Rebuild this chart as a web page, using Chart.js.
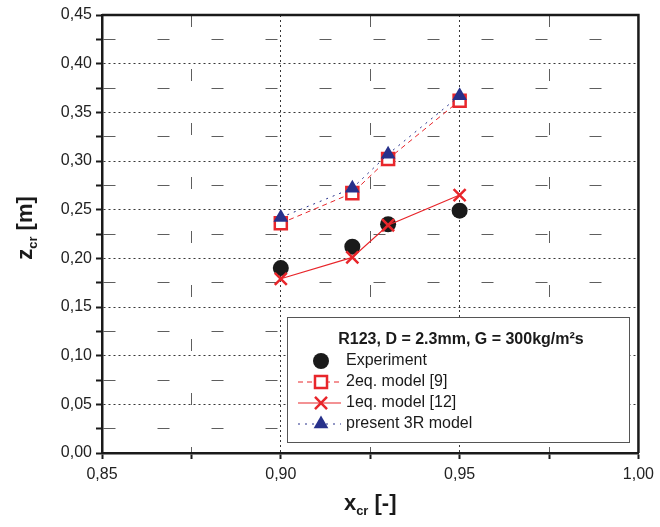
<!DOCTYPE html>
<html>
<head>
<meta charset="utf-8">
<script src="https://cdn.jsdelivr.net/npm/chart.js@4.4.1/dist/chart.umd.min.js"></script>
<style>
  html, body { margin: 0; padding: 0; background: #fff; }
  #wrap { width: 660px; height: 527px; }
</style>
</head>
<body>
<div id="wrap"><canvas id="chart"></canvas></div>
<script>
// values
const xcr = [0.90, 0.92, 0.93, 0.95];
const experiment = [0.190, 0.212, 0.235, 0.249];
const model2eq = [0.236, 0.267, 0.302, 0.362];
const model1eq = [0.179, 0.201, 0.234, 0.265];
const model3R = [0.242, 0.272, 0.307, 0.367];

const xTicks = [0.85, 0.875, 0.90, 0.925, 0.95, 0.975, 1.00];
const yTicks = [0, 0.025, 0.05, 0.075, 0.10, 0.125, 0.15, 0.175, 0.20, 0.225,
                0.25, 0.275, 0.30, 0.325, 0.35, 0.375, 0.40, 0.425, 0.45];

const legendTitle = 'R123, D = 2.3mm, G = 300kg/m²s';
const names = ['Experiment', '2eq. model [9]', '1eq. model [12]', 'present 3R model'];

const RED = '#e8262b';
const NAVY = '#27318b';
const FONT = '"Liberation Sans", Arial, sans-serif';

const pts = ys => xcr.map((x, i) => ({ x: x, y: ys[i] }));
const fmt = v => v.toFixed(2).replace('.', ',');

const datasets = [
  { label: names[0], data: pts(experiment), showLine: false, order: 3,
    pointStyle: 'circle', pointRadius: 8, backgroundColor: '#1a1a1a', borderColor: '#1a1a1a', borderWidth: 0 },
  { label: names[1], data: pts(model2eq), showLine: true, order: 2,
    borderColor: RED, borderWidth: 1, borderDash: [5, 4],
    pointStyle: 'rect', pointRadius: 8.5, pointBorderWidth: 2.5, pointBackgroundColor: '#fff', pointBorderColor: RED },
  { label: names[2], data: pts(model1eq), showLine: true, order: 1,
    borderColor: RED, borderWidth: 1.2,
    pointStyle: 'crossRot', pointRadius: 8.5, pointBorderWidth: 2.5, pointBorderColor: RED },
  { label: names[3], data: pts(model3R), showLine: true, order: 0,
    borderColor: NAVY, borderWidth: 1, borderDash: [2, 5],
    pointStyle: 'triangle', pointRadius: 8.5, pointBorderWidth: 0, pointBackgroundColor: NAVY, pointBorderColor: NAVY }
];

// frame, axis titles and the boxed legend
const extras = {
  id: 'extras',
  afterDatasetsDraw(chart) {
    const ctx = chart.ctx;
    const a = chart.chartArea;
    ctx.save();
    ctx.strokeStyle = '#1a1a1a';
    ctx.lineWidth = 2.5;
    ctx.beginPath();
    ctx.moveTo(a.left, a.top);
    ctx.lineTo(a.right, a.top);
    ctx.lineTo(a.right, a.bottom);
    ctx.stroke();

    // legend box
    const bx = 287, by = 317, bw = 342, bh = 125;
    ctx.fillStyle = '#fff';
    ctx.fillRect(bx, by, bw, bh);
    ctx.strokeStyle = '#555';
    ctx.lineWidth = 1;
    ctx.strokeRect(bx + 0.5, by + 0.5, bw, bh);

    ctx.fillStyle = '#1a1a1a';
    ctx.font = 'bold 16px ' + FONT;
    ctx.textAlign = 'center';
    ctx.textBaseline = 'middle';
    ctx.fillText(legendTitle, bx + bw / 2 + 3, by + 23);

    const rowY = [361, 382, 403, 424];
    const sx = 321;
    datasets.forEach((ds, i) => {
      const y = rowY[i];
      if (ds.showLine) {
        ctx.save();
        ctx.strokeStyle = ds.borderColor;
        ctx.lineWidth = ds.borderWidth;
        ctx.setLineDash(ds.borderDash || []);
        ctx.beginPath();
        ctx.moveTo(sx - 23, y);
        ctx.lineTo(sx + 20, y);
        ctx.stroke();
        ctx.restore();
      }
      ctx.save();
      ctx.fillStyle = ds.pointBackgroundColor || ds.backgroundColor;
      ctx.strokeStyle = ds.pointBorderColor || ds.borderColor;
      ctx.lineWidth = ds.pointBorderWidth || 0;
      Chart.helpers.drawPoint(ctx, {
        pointStyle: ds.pointStyle, radius: ds.pointRadius, rotation: 0,
        borderWidth: ds.pointBorderWidth || 0
      }, sx, y);
      ctx.restore();
      ctx.fillStyle = '#1a1a1a';
      ctx.font = '16px ' + FONT;
      ctx.textAlign = 'left';
      ctx.fillText(ds.label, sx + 25, y);
    });

    // x title
    const cx = (a.left + a.right) / 2;
    ctx.textBaseline = 'alphabetic';
    ctx.textAlign = 'left';
    ctx.font = 'bold 22px ' + FONT;
    const wx = ctx.measureText('x').width;
    ctx.font = 'bold 13px ' + FONT;
    const wsub = ctx.measureText('cr').width;
    ctx.font = 'bold 22px ' + FONT;
    const wrest = ctx.measureText(' [-]').width;
    let x0 = cx - (wx + wsub + wrest) / 2;
    const ty = 510;
    ctx.fillText('x', x0, ty);
    ctx.font = 'bold 13px ' + FONT;
    ctx.fillText('cr', x0 + wx, ty + 5);
    ctx.font = 'bold 22px ' + FONT;
    ctx.fillText(' [-]', x0 + wx + wsub, ty);

    // y title
    ctx.translate(32, 228);
    ctx.rotate(-Math.PI / 2);
    ctx.font = 'bold 22px ' + FONT;
    const wz = ctx.measureText('z').width;
    ctx.font = 'bold 13px ' + FONT;
    const wsz = ctx.measureText('cr').width;
    ctx.font = 'bold 22px ' + FONT;
    const wm = ctx.measureText(' [m]').width;
    x0 = -(wz + wsz + wm) / 2;
    ctx.fillText('z', x0, 0);
    ctx.font = 'bold 13px ' + FONT;
    ctx.fillText('cr', x0 + wz, 5);
    ctx.font = 'bold 22px ' + FONT;
    ctx.fillText(' [m]', x0 + wz + wsz, 0);
    ctx.restore();
  }
};

const gridColor = c => (c.index % 2 === 0 ? 'rgba(20,20,20,0.85)' : 'rgba(40,40,40,0.75)');
const gridDash = c => (c.index % 2 === 0 ? [2, 3] : [12, 42]);

new Chart(document.getElementById('chart'), {
  type: 'scatter',
  data: { datasets: datasets },
  options: {
    responsive: true,
    maintainAspectRatio: false,
    animation: false,
    layout: { padding: { top: 15, right: 20, left: 0, bottom: 0 } },
    plugins: { legend: { display: false }, tooltip: { enabled: false } },
    scales: {
      x: {
        type: 'linear', min: 0.85, max: 1.00,
        afterBuildTicks: s => { s.ticks = xTicks.map(v => ({ value: v })); },
        afterFit: s => { s.height = 74; },
        ticks: {
          autoSkip: false, maxRotation: 0, padding: 6,
          color: '#222', font: { family: FONT, size: 16 },
          callback: (v, i) => (i % 2 === 0 ? fmt(v) : '')
        },
        grid: {
          color: gridColor, lineWidth: 1, drawOnChartArea: true,
          tickColor: '#1a1a1a', tickLength: 6, tickWidth: 2
        },
        border: { display: true, color: '#1a1a1a', width: 2.5, dash: gridDash }
      },
      y: {
        type: 'linear', min: 0, max: 0.45,
        afterBuildTicks: s => { s.ticks = yTicks.map(v => ({ value: v })); },
        afterFit: s => { s.width = 102; },
        ticks: {
          autoSkip: false, padding: 4,
          color: '#222', font: { family: FONT, size: 16 },
          callback: (v, i) => (i % 2 === 0 ? fmt(v) : '')
        },
        grid: {
          color: gridColor, lineWidth: 1,
          tickColor: '#1a1a1a', tickLength: 6, tickWidth: 2
        },
        border: { display: true, color: '#1a1a1a', width: 2.5, dash: gridDash }
      }
    }
  },
  plugins: [extras]
});
</script>
</body>
</html>
